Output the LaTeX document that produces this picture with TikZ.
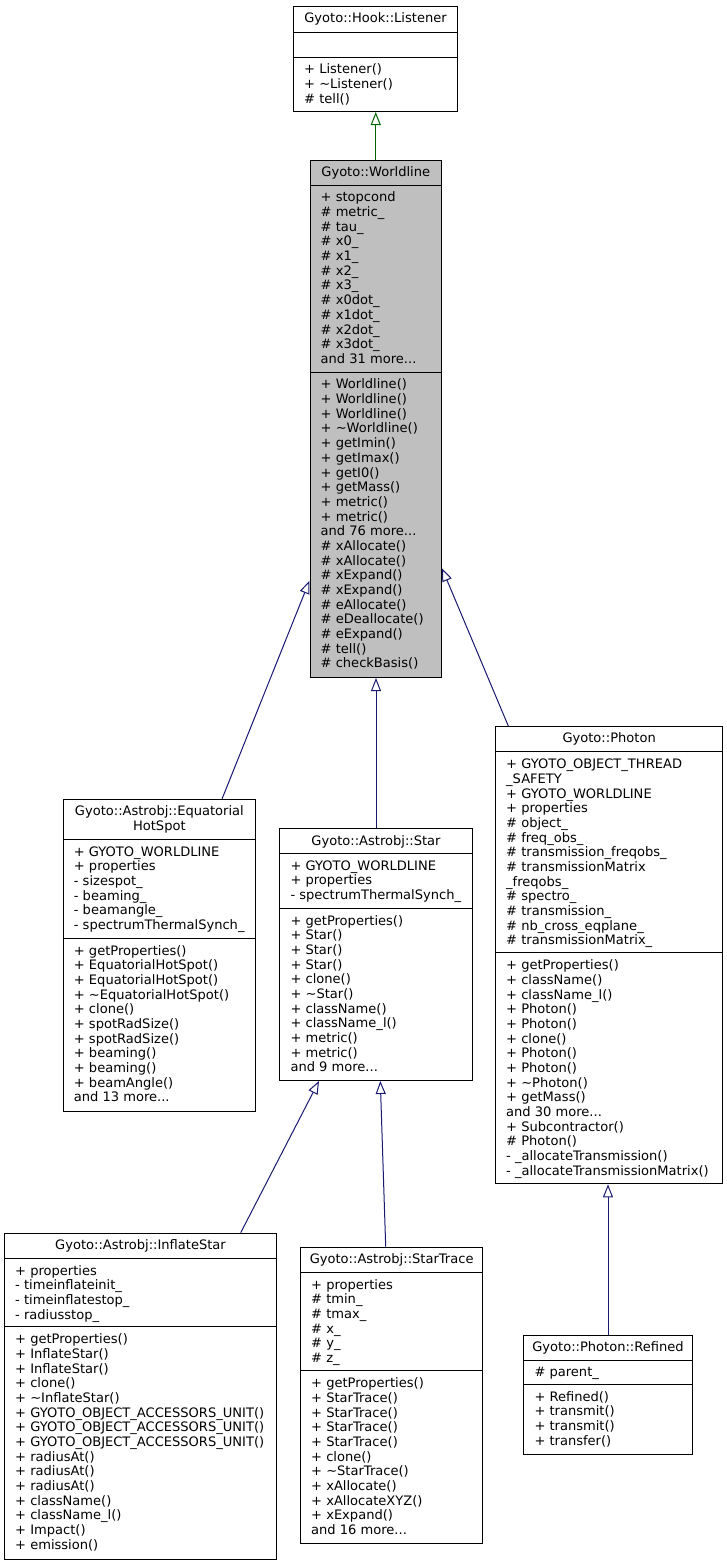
\documentclass[tikz,border=0pt]{standalone}
\usepackage{fontspec}
\setmainfont{DejaVu Sans}
\usetikzlibrary{arrows.meta}
\definecolor{edgeblue}{HTML}{191970}
\definecolor{edgegreen}{HTML}{006400}
\definecolor{wlgray}{HTML}{BFBFBF}
\newcommand{\dvsize}{\fontsize{13.05}{14.67}\selectfont}
\tikzset{
  cls/.style={draw=black, line width=1pt, fill=white, anchor=north west, inner sep=0pt},
  divl/.style={draw=black, line width=1pt},
  txt/.style={anchor=north west, inner sep=0pt, align=left, font=\dvsize},
  ttl/.style={anchor=north, inner sep=0pt, align=center, font=\dvsize, yshift=-6.5pt},
  inh/.style={draw=edgeblue, line width=1pt, -{Triangle[open,length=13pt,width=10pt]}},
  inhg/.style={draw=edgegreen, line width=1pt, -{Triangle[open,length=13pt,width=10pt]}}
}
\begin{document}
\begin{tikzpicture}[x=1pt,y=-1pt]
\useasboundingbox (0,0) rectangle (727,1564);

% ---------- Listener
\node[cls, minimum width=164pt, minimum height=105pt] (lis) at (293,6) {};
\draw[divl] (293,32) -- (457,32);
\draw[divl] (293,57) -- (457,57);
\node[ttl] (lisT) at (lis.north) {\strut Gyoto::Hook::Listener};
\node[txt] (lisM) at (304,63.5) {\strut + Listener()\\+ \textasciitilde Listener()\\\# tell()};

% ---------- Worldline
\node[cls, fill=wlgray, minimum width=131.5pt, minimum height=517pt] (wl) at (309.5,160) {};
\draw[divl] (309.5,185) -- (441,185);
\draw[divl] (309.5,372) -- (441,372);
\node[ttl] (wlT) at (wl.north) {\strut Gyoto::Worldline};
\node[txt] (wlA) at (320.5,191.5) {\strut + stopcond\\\# metric\_\\\# tau\_\\\# x0\_\\\# x1\_\\\# x2\_\\\# x3\_\\\# x0dot\_\\\# x1dot\_\\\# x2dot\_\\\# x3dot\_\\and 31 more...};
\node[txt] (wlM) at (320.5,378.5) {\strut + Worldline()\\+ Worldline()\\+ Worldline()\\+ \textasciitilde Worldline()\\+ getImin()\\+ getImax()\\+ getI0()\\+ getMass()\\+ metric()\\+ metric()\\and 76 more...\\\# xAllocate()\\\# xAllocate()\\\# xExpand()\\\# xExpand()\\\# eAllocate()\\\# eDeallocate()\\\# eExpand()\\\# tell()\\\# checkBasis()};

% ---------- EquatorialHotSpot
\node[cls, minimum width=192.3pt, minimum height=311.5pt] (ehs) at (62.7,799) {};
\draw[divl] (62.7,839.3) -- (255,839.3);
\draw[divl] (62.7,938.3) -- (255,938.3);
\node[ttl] (ehsT) at (ehs.north) {\strut Gyoto::Astrobj::Equatorial\\HotSpot};
\node[txt] (ehsA) at (73.7,845.8) {\strut + GYOTO\_WORLDLINE\\+ properties\\- sizespot\_\\- beaming\_\\- beamangle\_\\- spectrumThermalSynch\_};
\node[txt] (ehsM) at (73.7,944.8) {\strut + getProperties()\\+ EquatorialHotSpot()\\+ EquatorialHotSpot()\\+ \textasciitilde EquatorialHotSpot()\\+ clone()\\+ spotRadSize()\\+ spotRadSize()\\+ beaming()\\+ beaming()\\+ beamAngle()\\and 13 more...};

% ---------- Star
\node[cls, minimum width=192.4pt, minimum height=251.7pt] (star) at (279.3,828.3) {};
\draw[divl] (279.3,853.3) -- (471.7,853.3);
\draw[divl] (279.3,908.3) -- (471.7,908.3);
\node[ttl] (starT) at (star.north) {\strut Gyoto::Astrobj::Star};
\node[txt] (starA) at (290.3,859.8) {\strut + GYOTO\_WORLDLINE\\+ properties\\- spectrumThermalSynch\_};
\node[txt] (starM) at (290.3,914.8) {\strut + getProperties()\\+ Star()\\+ Star()\\+ Star()\\+ clone()\\+ \textasciitilde Star()\\+ className()\\+ className\_l()\\+ metric()\\+ metric()\\and 9 more...};

% ---------- Photon
\node[cls, minimum width=227.3pt, minimum height=457.3pt] (ph) at (495,726) {};
\draw[divl] (495,751.7) -- (722.3,751.7);
\draw[divl] (495,952.7) -- (722.3,952.7);
\node[ttl] (phT) at (ph.north) {\strut Gyoto::Photon};
\node[txt] (phA) at (506,758.2) {\strut + GYOTO\_OBJECT\_THREAD\\\_SAFETY\\+ GYOTO\_WORLDLINE\\+ properties\\\# object\_\\\# freq\_obs\_\\\# transmission\_freqobs\_\\\# transmissionMatrix\\\_freqobs\_\\\# spectro\_\\\# transmission\_\\\# nb\_cross\_eqplane\_\\\# transmissionMatrix\_};
\node[txt] (phM) at (506,959.2) {\strut + getProperties()\\+ className()\\+ className\_l()\\+ Photon()\\+ Photon()\\+ clone()\\+ Photon()\\+ Photon()\\+ \textasciitilde Photon()\\+ getMass()\\and 30 more...\\+ Subcontractor()\\\# Photon()\\- \_allocateTransmission()\\- \_allocateTransmissionMatrix()};

% ---------- InflateStar
\node[cls, minimum width=272pt, minimum height=326.6pt] (inf) at (4,1232.7) {};
\draw[divl] (4,1258.3) -- (276,1258.3);
\draw[divl] (4,1326.7) -- (276,1326.7);
\node[ttl] (infT) at (inf.north) {\strut Gyoto::Astrobj::InflateStar};
\node[txt] (infA) at (15,1264.8) {\strut + properties\\- timeinflateinit\_\\- timeinflatestop\_\\- radiusstop\_};
\node[txt] (infM) at (15,1333.2) {\strut + getProperties()\\+ InflateStar()\\+ InflateStar()\\+ clone()\\+ \textasciitilde InflateStar()\\+ GYOTO\_OBJECT\_ACCESSORS\_UNIT()\\+ GYOTO\_OBJECT\_ACCESSORS\_UNIT()\\+ GYOTO\_OBJECT\_ACCESSORS\_UNIT()\\+ radiusAt()\\+ radiusAt()\\+ radiusAt()\\+ className()\\+ className\_l()\\+ Impact()\\+ emission()};

% ---------- StarTrace
\node[cls, minimum width=182.3pt, minimum height=296pt] (st) at (300,1246.7) {};
\draw[divl] (300,1272.3) -- (482.3,1272.3);
\draw[divl] (300,1370.7) -- (482.3,1370.7);
\node[ttl] (stT) at (st.north) {\strut Gyoto::Astrobj::StarTrace};
\node[txt] (stA) at (311,1278.8) {\strut + properties\\\# tmin\_\\\# tmax\_\\\# x\_\\\# y\_\\\# z\_};
\node[txt] (stM) at (311,1377.2) {\strut + getProperties()\\+ StarTrace()\\+ StarTrace()\\+ StarTrace()\\+ StarTrace()\\+ clone()\\+ \textasciitilde StarTrace()\\+ xAllocate()\\+ xAllocateXYZ()\\+ xExpand()\\and 16 more...};

% ---------- Refined
\node[cls, minimum width=168.4pt, minimum height=119.3pt] (ref) at (523.3,1335) {};
\draw[divl] (523.3,1360) -- (691.7,1360);
\draw[divl] (523.3,1384.3) -- (691.7,1384.3);
\node[ttl] (refT) at (ref.north) {\strut Gyoto::Photon::Refined};
\node[txt] (refA) at (534.3,1366.5) {\strut \# parent\_};
\node[txt] (refM) at (534.3,1390.8) {\strut + Refined()\\+ transmit()\\+ transmit()\\+ transfer()};

% ---------- inheritance edges
\draw[inhg] (wl.north) -- (wl.north |- lis.south);
\draw[inh] ([xshift=159.3pt]ehs.north west) -- ([yshift=-420.7pt]wl.north west);
\draw[inh] (star.north) -- (star.north |- wl.south);
\draw[inh] ([xshift=13.3pt]ph.north west) -- ([yshift=-408.3pt]wl.north east);
\draw[inh] ([xshift=236.7pt]inf.north west) -- ([xshift=39.7pt]star.south west);
\draw[inh] ([xshift=85.7pt]st.north west) -- ([xshift=101pt]star.south west);
\draw[inh] (ref.north) -- (ref.north |- ph.south);
\end{tikzpicture}
\end{document}
